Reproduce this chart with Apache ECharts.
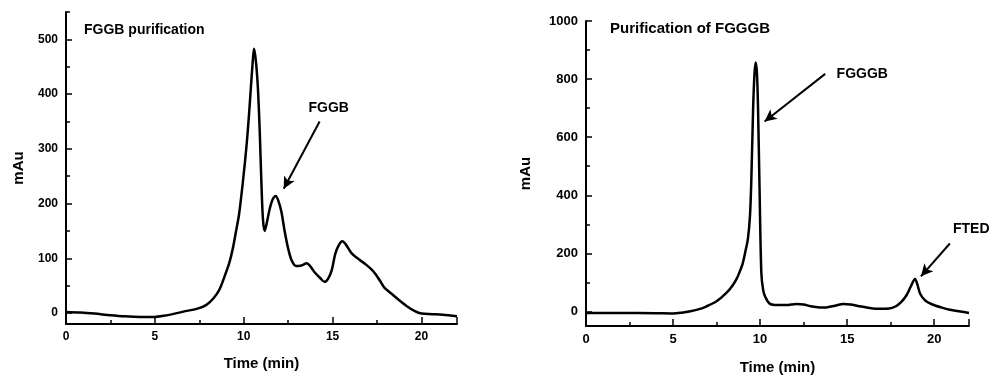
<!DOCTYPE html>
<html>
<head>
    <meta http-equiv="Content-Type" content="text/html; charset=utf-8" />
    <title>FGGB / FGGGB purification</title>
    <script src="https://cdn.jsdelivr.net/npm/echarts@6/dist/echarts.min.js"></script>
</head>
<body style="margin:0;padding:0;background:#ffffff;">
    <div id="main" style="width:992px;height:376px;"></div>
    <script type="text/javascript">
        /*************************************************************
        * data (time in min, absorbance in mAu)
        *************************************************************/
        var fggbTrace = [
            [0, 2], [0.8, 1], [1.6, -1], [2.5, -4], [3.3, -6], [4.2, -7], [5.0, -7], [5.5, -5],
            [6.0, -2], [6.8, 4], [7.4, 8], [7.9, 15], [8.3, 27], [8.65, 44], [9.0, 74], [9.2, 93],
            [9.4, 120], [9.57, 150], [9.74, 181], [9.96, 242], [10.15, 303], [10.3, 364],
            [10.43, 425], [10.52, 465], [10.58, 483], [10.65, 470], [10.72, 448], [10.8, 410],
            [10.9, 333], [10.99, 242], [11.08, 172], [11.18, 150], [11.3, 165], [11.46, 190],
            [11.62, 207], [11.8, 214], [11.95, 205], [12.12, 185], [12.3, 150], [12.5, 118],
            [12.7, 96], [12.95, 86], [13.25, 87], [13.55, 91], [13.8, 83], [14.0, 74], [14.3, 64],
            [14.55, 57], [14.75, 63], [14.95, 78], [15.15, 108], [15.35, 124], [15.55, 131],
            [15.75, 125], [16.05, 110], [16.4, 100], [16.9, 88], [17.3, 76], [17.65, 60],
            [17.9, 47], [18.4, 33], [18.8, 22], [19.2, 12], [19.6, 4], [20.0, -1], [20.6, -2],
            [21.2, -3], [22.0, -6]
        ];
        var fgggbTrace = [
            [0, -5], [2, -5], [4, -6], [5, -7], [5.5, -4], [6.0, 1], [6.5, 8], [6.9, 17], [7.5, 35],
            [8.05, 63], [8.4, 88], [8.65, 112], [8.85, 140], [9.0, 165], [9.15, 205], [9.3, 250],
            [9.42, 330], [9.5, 460], [9.6, 700], [9.68, 820], [9.75, 857], [9.82, 820], [9.88, 705],
            [9.97, 420], [10.07, 135], [10.18, 72], [10.3, 50], [10.55, 27], [11.0, 22], [11.5, 22],
            [12.1, 26], [12.5, 24], [12.9, 18], [13.4, 14], [13.8, 14], [14.3, 20], [14.8, 26],
            [15.2, 24], [15.7, 18], [16.3, 12], [16.85, 9], [17.4, 10], [17.8, 18], [18.1, 32],
            [18.4, 55], [18.65, 85], [18.9, 112], [19.05, 90], [19.2, 60], [19.5, 37], [19.9, 24],
            [20.4, 14], [20.9, 6], [21.5, 0], [22.0, -5]
        ];

        // tick labels
        var timeTicks = [0, 5, 10, 15, 20];
        var leftTicks = [0, 100, 200, 300, 400, 500];
        var leftMinor = [50, 150, 250, 350, 450, 550];
        var rightTicks = [0, 200, 400, 600, 800, 1000];
        var rightMinor = [100, 300, 500, 700, 900];

        // annotations: [label, label point, arrow start, arrow tip]
        var leftNotes = [
            ['FGGB', [14.78, 374], [14.27, 350], [12.25, 227]]
        ];
        var rightNotes = [
            ['FGGGB', [15.87, 818], [13.74, 818], [10.26, 654]],
            ['FTED', [21.5, 282], [20.9, 234], [19.24, 121]]
        ];

        /*************************************************************
        * styles
        *************************************************************/
        var FONT = 'Liberation Sans, Arial, sans-serif';
        var axisLine = { show: true, onZero: false, lineStyle: { color: '#000', width: 2 } };

        function labelStyle(size) {
            return { color: '#000', fontWeight: 'bold', fontSize: size, fontFamily: FONT };
        }

        function plain(v) { return String(v); }

        function timeAxis(grid, size, gap) {
            return {
                type: 'value', gridIndex: grid, min: 0, max: 22, interval: 5,
                name: 'Time (min)', nameLocation: 'middle', nameGap: gap,
                nameTextStyle: labelStyle(15),
                axisLine: axisLine,
                axisTick: { inside: true, length: 7, lineStyle: { color: '#000', width: 1.5 } },
                minorTick: { show: true, splitNumber: 2, length: 4, lineStyle: { color: '#000', width: 1.5 } },
                axisLabel: Object.assign({ margin: 7, customValues: timeTicks, formatter: plain }, labelStyle(size)),
                splitLine: { show: false }
            };
        }

        function valueAxis(grid, min, max, ticks, size, gap) {
            return {
                type: 'value', gridIndex: grid, min: min, max: max,
                name: 'mAu', nameLocation: 'middle', nameGap: gap, nameRotate: 90,
                nameTextStyle: labelStyle(15),
                axisLine: axisLine,
                axisTick: { inside: true, length: 6, customValues: ticks, lineStyle: { color: '#000', width: 1.5 } },
                axisLabel: Object.assign({ margin: 8, customValues: ticks, formatter: plain }, labelStyle(size)),
                splitLine: { show: false }
            };
        }

        function minorAxis(grid, min, max, ticks) {
            return {
                type: 'value', gridIndex: grid, min: min, max: max, position: 'left',
                axisLine: { show: false },
                axisTick: { inside: true, length: 4, customValues: ticks, lineStyle: { color: '#000', width: 1.5 } },
                axisLabel: { show: false },
                splitLine: { show: false }
            };
        }

        function traceSeries(idx, data, notes) {
            return {
                type: 'line', xAxisIndex: idx, yAxisIndex: idx * 2,
                data: data, smooth: 0.3, showSymbol: false,
                lineStyle: { color: '#000', width: 2.5 },
                markLine: {
                    silent: true, symbol: ['none', 'arrow'], symbolSize: [9, 12],
                    lineStyle: { color: '#000', width: 2, type: 'solid' },
                    label: { show: false },
                    data: notes.map(function (n) { return [{ coord: n[2] }, { coord: n[3] }]; })
                },
                markPoint: {
                    silent: true, symbol: 'circle', symbolSize: 0,
                    label: Object.assign({ show: true, position: 'inside' }, labelStyle(14)),
                    data: notes.map(function (n) {
                        var nudge = n[1][0] > 21 ? [11, 0] : [0, 0];
                        return { coord: n[1], value: n[0], label: { formatter: n[0], offset: nudge } };
                    })
                }
            };
        }

        /*************************************************************
        * chart
        *************************************************************/
        var chart = echarts.init(document.getElementById('main'));
        var option = {
            animation: false,
            backgroundColor: '#ffffff',
            title: [
                { text: 'FGGB purification', left: 79, top: 18, textStyle: labelStyle(14) },
                { text: 'Purification of FGGGB', left: 605, top: 16, textStyle: labelStyle(15) }
            ],
            grid: [
                { left: 66, right: 535, top: 12, bottom: 52, outerBoundsMode: 'none' },
                { left: 586, right: 23, top: 21, bottom: 50, outerBoundsMode: 'none' }
            ],
            xAxis: [timeAxis(0, 12, 32), timeAxis(1, 13, 34)],
            yAxis: [
                valueAxis(0, -20, 550, leftTicks, 12, 40),
                minorAxis(0, -20, 550, leftMinor),
                valueAxis(1, -50, 1000, rightTicks, 13, 53),
                minorAxis(1, -50, 1000, rightMinor)
            ],
            series: [
                traceSeries(0, fggbTrace, leftNotes),
                traceSeries(1, fgggbTrace, rightNotes)
            ]
        };
        chart.setOption(option);
    </script>
</body>
</html>
